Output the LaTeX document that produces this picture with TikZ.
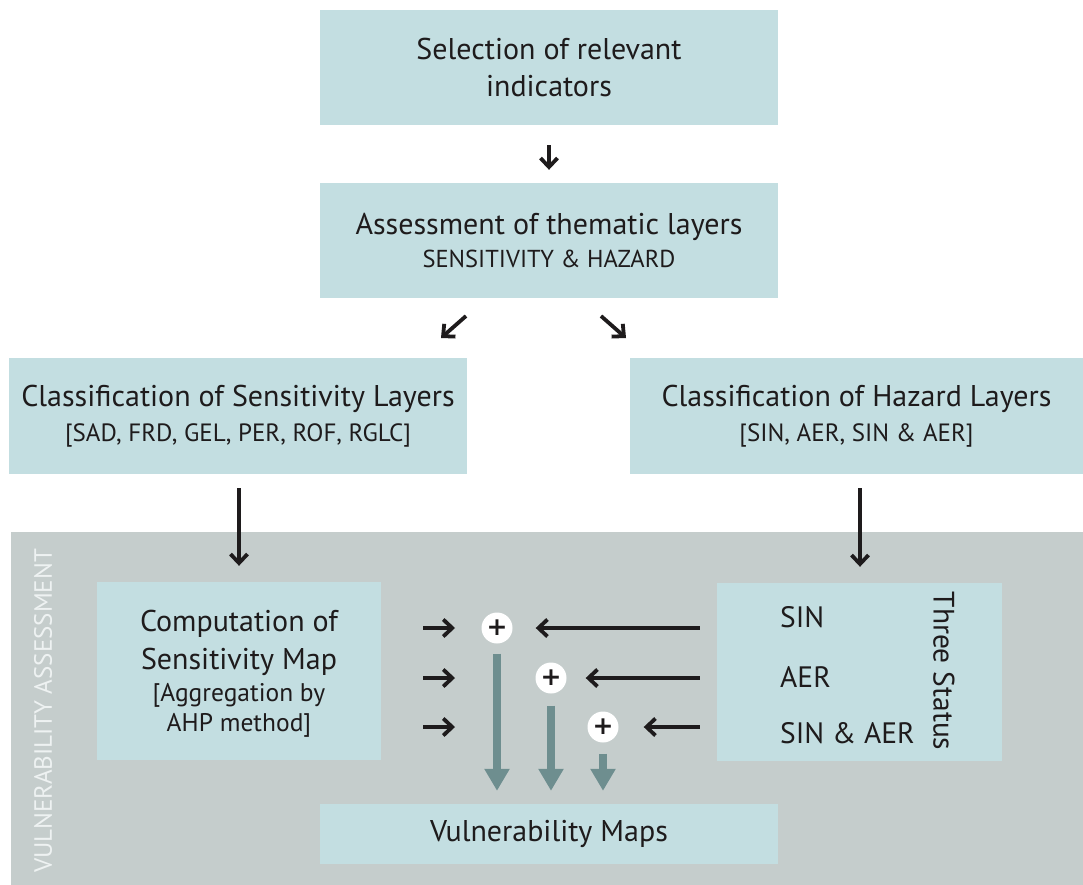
\documentclass[tikz,border=0pt]{standalone}
\usepackage{fontspec}
\setmainfont{PT Sans}
\newfontfamily\plusfont{DejaVu Sans}
\usetikzlibrary{arrows.meta}
\definecolor{boxc}{HTML}{C3DEE1}
\definecolor{panelc}{HTML}{C5CDCC}
\definecolor{txt}{HTML}{1E1B1C}
\definecolor{garrow}{HTML}{6E8E8F}
\definecolor{vtxt}{HTML}{EEF2F2}
\tikzset{
  box/.style={fill=boxc, draw=none, inner sep=0pt, align=center, text=txt, font=\fontsize{30}{36}\selectfont},
  blk/.style={draw=txt, line width=3.8pt, -{Straight Barb[length=9pt,width=17pt,line width=3.8pt]}},
  garr/.style={draw=garrow, line width=8pt, -{Triangle[length=22pt,width=24pt]}},
  plus/.style={circle, fill=white, draw=none, minimum size=31pt, inner sep=0pt, font=\plusfont\bfseries\fontsize{25}{25}\selectfont, text=txt},
  stxt/.style={text=txt, font=\fontsize{29.5}{30}\selectfont, anchor=west, inner sep=0pt},
}
\begin{document}
\begin{tikzpicture}[x=1pt,y=-1pt]
\useasboundingbox (0,0) rectangle (1083,885);
\fill[white] (0,0) rectangle (1083,885);
% panel
\fill[panelc] (11,532) rectangle (1083,885);
\node[rotate=90, text=vtxt, font=\fontsize{25}{25}\selectfont, anchor=center] (vlab) at (43,711) {VULNERABILITY ASSESSMENT};

\node[box, minimum width=458pt, minimum height=115pt] (b1) at (549,67.5) {Selection of relevant\\[1pt]indicators};
\node[box, minimum width=458pt, minimum height=115pt] (b2) at (549,240.5) {Assessment of thematic layers\\[-3pt]{\fontsize{24.5}{30}\selectfont SENSITIVITY \& HAZARD}};
\node[box, minimum width=458pt, minimum height=116pt] (b3) at (238,416) {Classification of Sensitivity Layers\\[-1pt]{\fontsize{25}{30}\selectfont [SAD, FRD, GEL, PER, ROF, RGLC]}};
\node[box, minimum width=453pt, minimum height=116pt] (b4) at (856.5,416) {Classification of Hazard Layers\\[-1pt]{\fontsize{25}{30}\selectfont [SIN, AER, SIN \& AER]}};

\node[box, minimum width=284pt, minimum height=178pt, text depth=0pt] (comp) at (239,671) {};
\node[align=center, text=txt, font=\fontsize{30}{36}\selectfont, inner sep=0pt] (comptxt) at (239,674) {Computation of\\[2pt]Sensitivity Map\\[-4pt]{\fontsize{25.5}{30}\selectfont [Aggregation by}\\[-6pt]{\fontsize{25.5}{30}\selectfont AHP method]}};
\node[box, minimum width=285pt, minimum height=178pt] (stat) at (859.5,672) {};
\node[box, minimum width=458pt, minimum height=60pt] (vm) at (549,834) {Vulnerability Maps};

\node[stxt] (sin) at (780,617) {SIN};
\node[stxt] (aer) at (780,677) {AER};
\node[stxt] (sinaer) at (780,733) {SIN \& AER};
\node[rotate=-90, text=txt, font=\fontsize{29.5}{30}\selectfont] (three) at (944,671) {Three Status};

% plus circles
\node[plus] (p1) at (497,628) {+};
\node[plus] (p2) at (551,678) {+};
\node[plus] (p3) at (603,727) {+};

% black arrows
\draw[blk, shorten <=20pt, shorten >=13pt] (b1.south) -- (b2.north);
\coordinate (d1s) at (466,316); \coordinate (d1e) at (441,338);
\coordinate (d2s) at (601,316); \coordinate (d2e) at (626,338);
\draw[blk] (d1s) -- (d1e);
\draw[blk] (d2s) -- (d2e);
\draw[blk, shorten <=14pt, shorten >=16pt] (b3.south -| 239,0) -- (comp.north);
\draw[blk, shorten <=14pt, shorten >=16pt] (b4.south -| 860,0) -- (stat.north -| 860,0);

\coordinate (r1) at (423,628); \coordinate (r2) at (423,678); \coordinate (r3) at (423,727);
\draw[blk] (r1) -- (455,628) coordinate (r1e);
\draw[blk] (r2) -- (455,678) coordinate (r2e);
\draw[blk] (r3) -- (455,727) coordinate (r3e);

\draw[blk, shorten <=17pt, shorten >=23pt] (stat.west |- p1) -- (p1);
\draw[blk, shorten <=17pt, shorten >=19pt] (stat.west |- p2) -- (p2);
\draw[blk, shorten <=17pt, shorten >=25pt] (stat.west |- p3) -- (p3);

% grey arrows
\draw[garr, shorten <=10pt, shorten >=13pt] (p1) -- (p1 |- vm.north);
\draw[garr, shorten <=12pt, shorten >=13pt] (p2) -- (p2 |- vm.north);
\draw[garr, shorten <=11pt, shorten >=13pt] (p3) -- (p3 |- vm.north);
\end{tikzpicture}
\end{document}
